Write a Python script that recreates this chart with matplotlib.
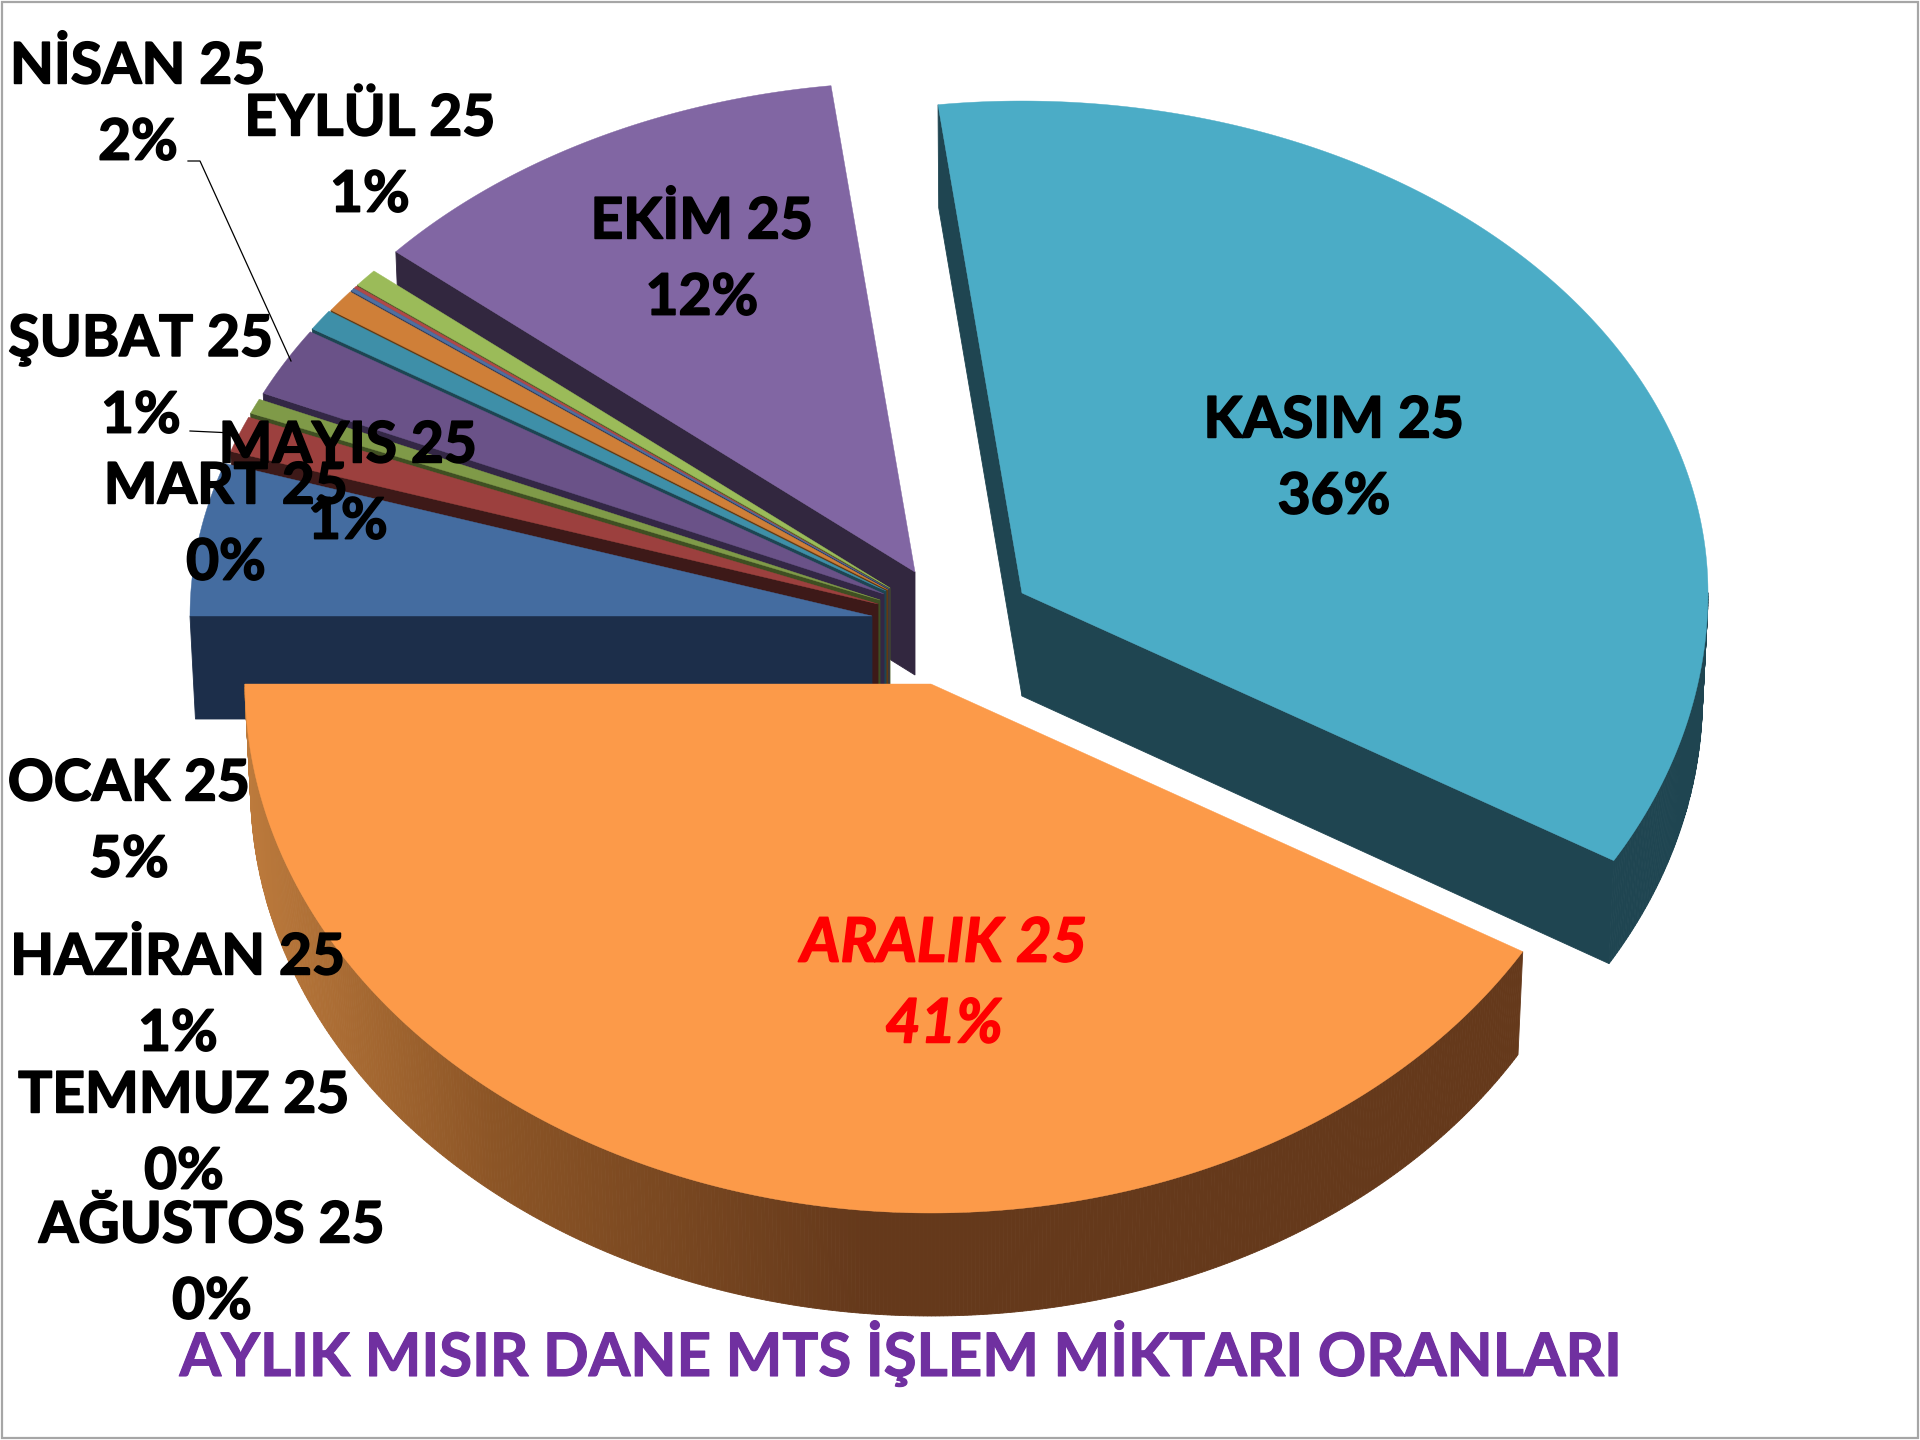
#!/usr/bin/env python3
"""Exploded 3D-look pie of monthly MTS corn volume shares."""

import matplotlib

matplotlib.use("Agg")
import matplotlib.patheffects as pe
import matplotlib.pyplot as plt
import numpy as np
from matplotlib.colors import LinearSegmentedColormap
from matplotlib.patches import Rectangle

plt.rcParams["font.family"] = ["Lato", "DejaVu Sans"]

# values in drawing order: clockwise from the left edge of the pie
months = ["OCAK 25", "ŞUBAT 25", "MART 25", "NİSAN 25", "MAYIS 25", "HAZİRAN 25",
          "TEMMUZ 25", "AĞUSTOS 25", "EYLÜL 25", "EKİM 25", "KASIM 25", "ARALIK 25"]
shares = [5.1, 1.2, 0.5, 2.3, 0.7, 0.75, 0.1, 0.1, 0.6, 11.72, 35.43, 41.6]
pct_labels = ["5%", "1%", "0%", "2%", "1%", "1%", "0%", "0%", "1%", "12%", "36%", "41%"]

top_colors = ["#446CA0", "#9C403E", "#7F9A48", "#6A5288", "#3E8FA8", "#CF7F38",
              "#4F6FA0", "#B04848", "#9BBB59", "#8166A3", "#4BACC6", "#FC9A49"]
wall_colors = ["#1C2E4A", "#3D1918", "#3F4F22", "#332745", "#1D4552", "#633A12",
               "#26385A", "#5A2423", "#4B5E26", "#32273F", "#1F4551", "#65391B"]

# layout, in reference pixels
apex_x = [872, 878, 880, 884, 886, 888, 889, 889, 890, 915, 1022, 931]
apex_y = [616, 604, 600, 594, 591, 590, 589, 589, 588, 572, 593, 684]
radius_x = [682, 682, 682, 682, 682, 682, 682, 682, 682, 686, 686, 686]
radius_back = [485, 485, 485, 485, 485, 485, 485, 485, 485, 490, 492, 490]
RADIUS_FRONT = 529
DEPTH = 103
BOTTOM_SHRINK = 0.992

label_x = [129, 141, 226, 138, 348, 178, 184, 212, 370, 702, 1334, 944]
label_y = [822, 378, 525, 105, 484, 996, 1134, 1264, 157, 260, 459, 984]
LABEL_SIZE = 41
LABEL_SPACING = 1.54

draw_order = [10, 9, 8, 7, 6, 5, 4, 3, 2, 1, 0, 11]

wall_cmap = LinearSegmentedColormap.from_list(
    "orange_wall", [(0.0, "#BC7A3C"), (0.4, "#8C5526"), (1.0, "#65391B")])


def rim(i, angles, cx, cy):
    t = np.radians(angles)
    s = np.sin(t)
    r = np.where(s > 0, radius_back[i], RADIUS_FRONT)
    return cx + radius_x[i] * np.cos(t), cy - r * s


def drop(x, y, cx):
    return cx + (x - cx) * BOTTOM_SHRINK, y + DEPTH


def draw_slice(ax, i, start, end):
    cx, cy = apex_x[i], apex_y[i]
    angles = np.linspace(start, end, max(int(abs(end - start) * 3), 3))
    xs, ys = rim(i, angles, cx, cy)
    px = np.r_[cx, xs, cx]
    py = np.r_[cy, ys, cy]
    bx, by = drop(px, py, cx)

    # first edge is the radial face that shows; the closing one shows only on KASIM
    last_edge = len(px) - 2
    for j in range(len(px) - 1):
        if j == last_edge:
            if i != 10:
                continue
        elif j == 0:
            if i == 11:
                continue
        elif ys[j - 1] < cy and ys[j] < cy:
            continue  # back of the rim, behind the top
        color = wall_colors[i]
        if i == 11:
            color = wall_cmap(np.clip((px[j] - 245) / 620, 0, 1))
        ax.fill([px[j], px[j + 1], bx[j + 1], bx[j]], [py[j], py[j + 1], by[j + 1], by[j]],
                color=color, lw=0.6, zorder=2)
    ax.fill(px, py, color=top_colors[i], lw=0.3, zorder=2)


def main():
    fig = plt.figure(figsize=(19.2, 14.4), dpi=100, facecolor="white")
    ax = fig.add_axes([0, 0, 1, 1])
    ax.set_xlim(0, 1920)
    ax.set_ylim(1440, 0)
    ax.axis("off")

    sweep = np.array(shares) / sum(shares) * 360
    bounds = 180 - np.r_[0, np.cumsum(sweep)]
    for i in draw_order:
        draw_slice(ax, i, bounds[i], bounds[i + 1])

    # leader lines
    ax.plot([188, 200, 291], [161, 161, 361], color="black", lw=0.9, zorder=3)
    ax.plot([190, 233], [431, 433], color="black", lw=0.9, zorder=3)

    for i, name in enumerate(months):
        last = i == 11
        txt = ax.text(label_x[i], label_y[i], f"{name}\n{pct_labels[i]}", ha="center", va="center",
                      fontsize=LABEL_SIZE + 3 if last else LABEL_SIZE, fontweight="bold",
                      linespacing=LABEL_SPACING, zorder=4,
                      color="#FF0000" if last else "black", style="italic" if last else "normal")
        txt.set_path_effects([pe.withStroke(linewidth=1.2, foreground=txt.get_color())])

    title = ax.text(901, 1354, "AYLIK MISIR DANE MTS İŞLEM MİKTARI ORANLARI", ha="center", va="center",
                    fontsize=43.2, fontweight="bold", color="#7030A0", zorder=4)
    title.set_path_effects([pe.withStroke(linewidth=0.8, foreground="#7030A0")])

    ax.add_patch(Rectangle((2, 2), 1916, 1436, fill=False, ec="#A6A6A6", lw=1.6, zorder=5))

    fig.savefig("out.png", dpi=100, facecolor="white")
    plt.close(fig)


if __name__ == "__main__":
    main()
